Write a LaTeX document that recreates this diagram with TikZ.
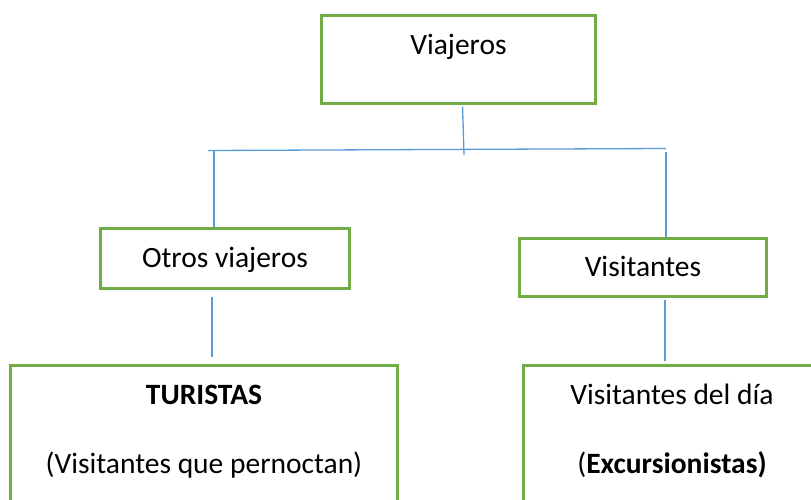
\documentclass[tikz,border=0pt]{standalone}
\usepackage{fontspec}
\setmainfont{Carlito}
\usetikzlibrary{positioning}
\definecolor{verde}{RGB}{112,173,71}
\definecolor{azul}{RGB}{91,155,213}
\tikzstyle{caja} = [rectangle, draw=verde, line width=3pt, inner sep=0pt]
\tikzstyle{rotulo} = [inner sep=0pt, anchor=base, font=\fontsize{29.5}{35}\selectfont]
\tikzstyle{conector} = [draw=azul, line width=1.3pt]

\begin{document}
\begin{tikzpicture}[x=1pt, y=-1pt]
        \clip (0,0) rectangle (811,500);
        % Place nodes
        \node [caja, minimum width=274pt, minimum height=88pt] (viajeros) at (458.5,59.5) {};
        \node [rotulo, yshift=-40.5pt] (tviajeros) at (viajeros.north) {Viajeros};
        \node [caja, minimum width=249pt, minimum height=60pt] (otros) at (225,258.5) {};
        \node [rotulo, yshift=-40pt] (totros) at (otros.north) {Otros viajeros};
        \node [caja, minimum width=247pt, minimum height=58pt] (visitantes) at (643,267.5) {};
        \node [rotulo, yshift=-39pt] (tvisitantes) at (visitantes.north) {Visitantes};
        \node [caja, minimum width=387pt, minimum height=170pt] (turistas) at (204,450.5) {};
        \node [rotulo, yshift=-40pt] (tturistas) at (turistas.north) {\bfseries TURISTAS};
        \node [rotulo, yshift=-109pt] (tpernoctan) at (turistas.north) {(Visitantes que pernoctan)};
        \node [caja, minimum width=297pt, minimum height=170pt] (excursion) at (672,450.5) {};
        \node [rotulo, yshift=-40pt] (tdia) at (excursion.north) {Visitantes del día};
        \node [rotulo, yshift=-109pt] (texcursion) at (excursion.north) {(\textbf{Excursionistas)}};
        % Bus and branch points
        \coordinate (bizq) at (208,150.5);
        \coordinate (bder) at (666,148.5);
        \coordinate (bmed) at (464,155);
        \coordinate (ramai) at (214,151);
        \coordinate (ramad) at (666,152);
        \coordinate (bajai) at ([xshift=-13pt]otros.south);
        \coordinate (bajad) at ([xshift=22pt]visitantes.south);
        % Draw edges
        \path [conector, shorten <=1.5pt] ([xshift=4pt]viajeros.south) -- (bmed);
        \path [conector] (bizq) -- (bder);
        \path [conector] (ramai) -- (ramai |- otros.north);
        \path [conector] (ramad) -- (ramad |- visitantes.north);
        \path [conector, shorten <=6.5pt, shorten >=7.5pt] (bajai) -- (bajai |- turistas.north);
        \path [conector, shorten <=1.5pt, shorten >=3.5pt] (bajad) -- (bajad |- excursion.north);
    \end{tikzpicture}
\end{document}
